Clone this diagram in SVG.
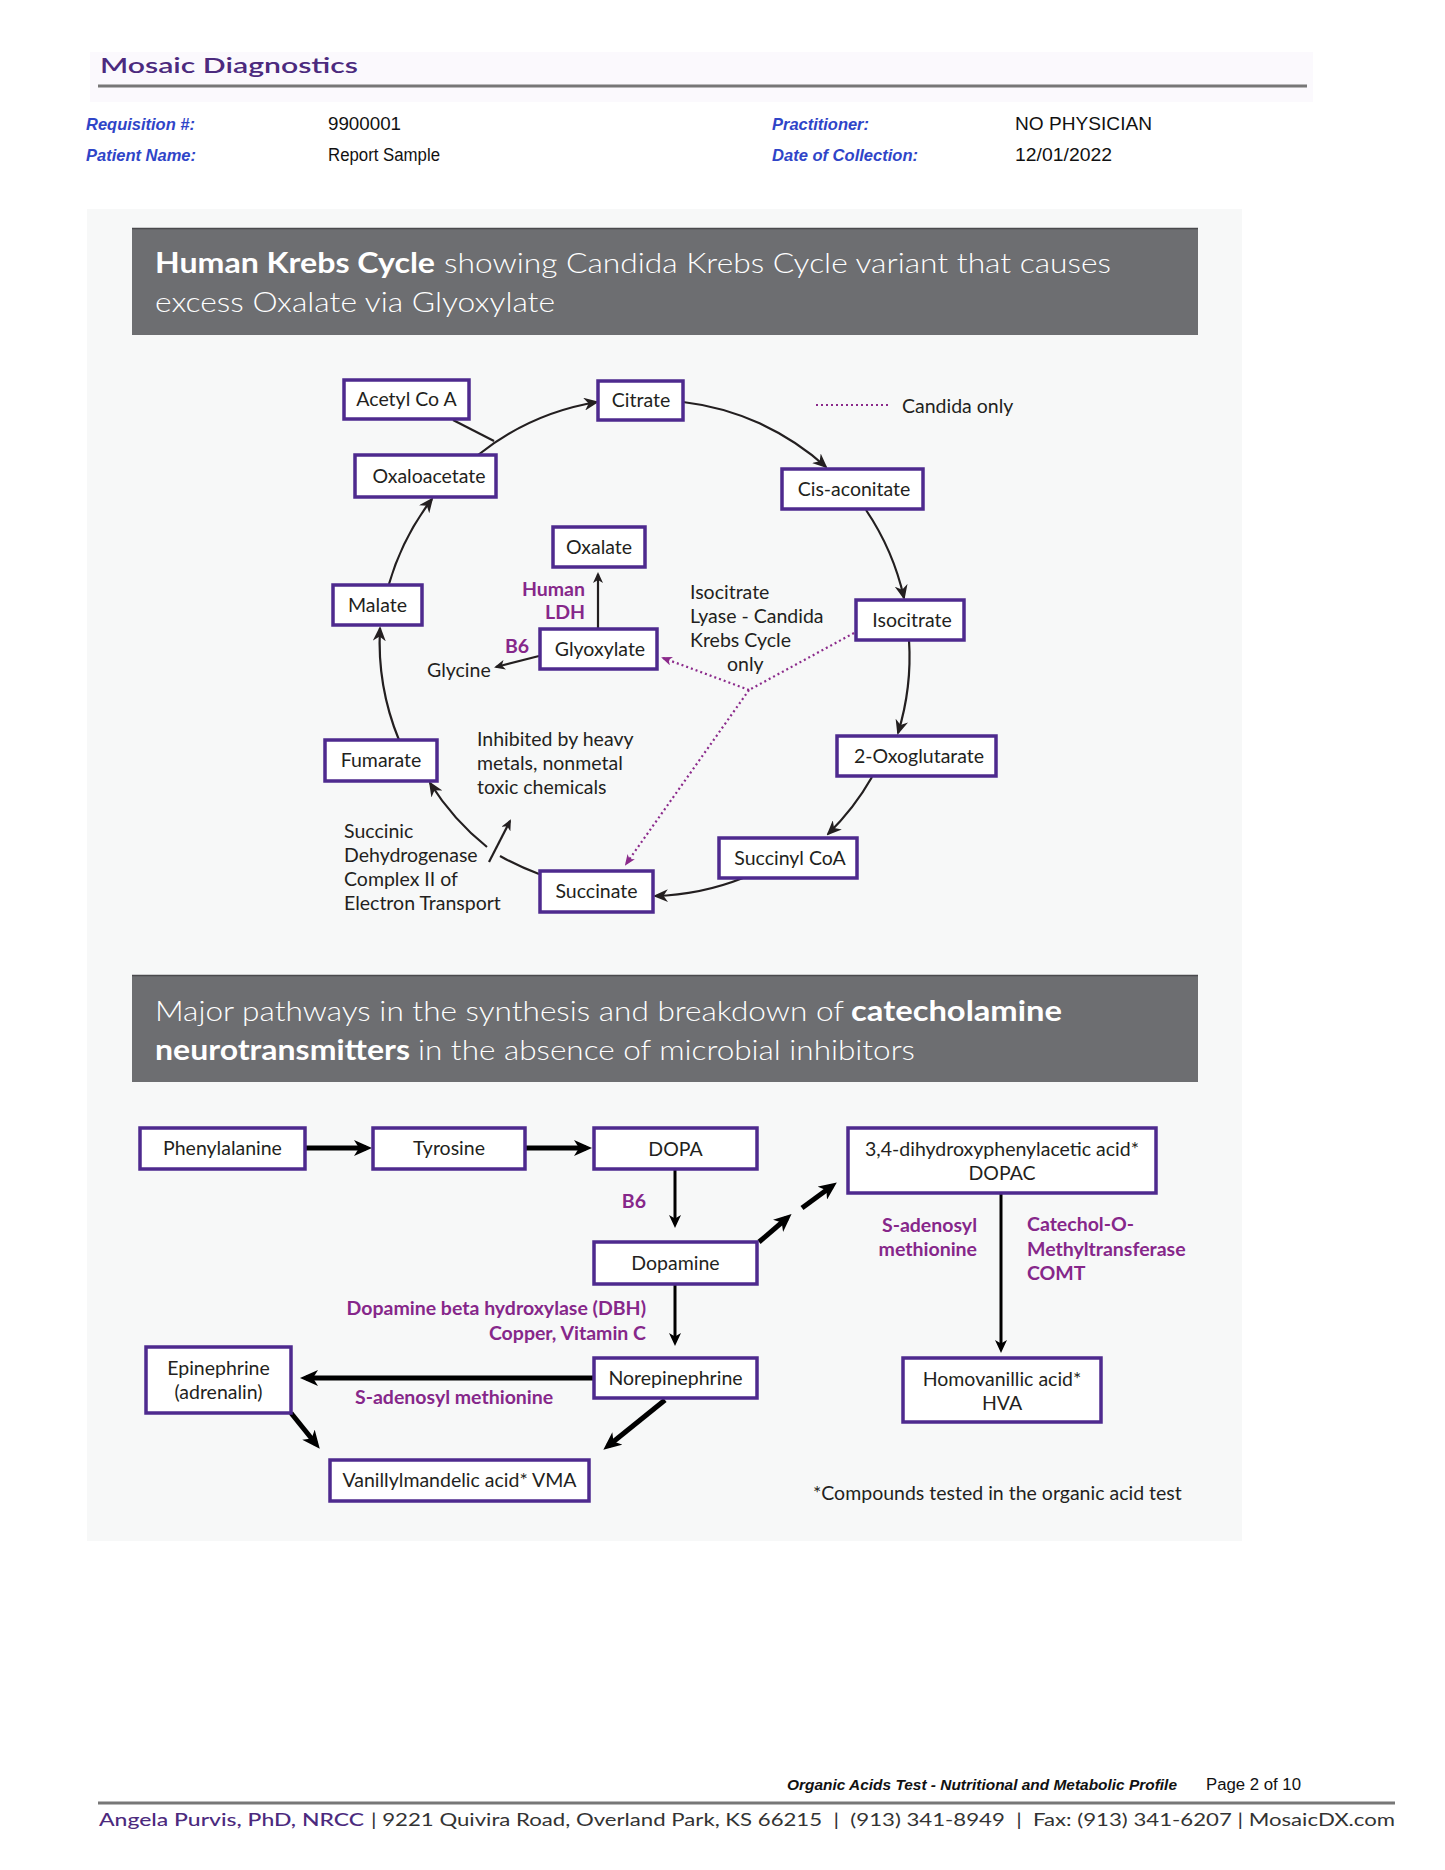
<svg xmlns="http://www.w3.org/2000/svg" width="1445" height="1870" viewBox="0 0 1445 1870">
<defs>
<style>
.hl{font-family:"Liberation Sans",Arial,sans-serif;font-size:16.5px;font-weight:bold;font-style:italic;fill:#2f45c8}
.hv{font-family:"Liberation Sans",Arial,sans-serif;font-size:18px;fill:#111}
.box{fill:#fff;stroke:#4e2a8e;stroke-width:3.5}
.nt{font-family:Lato,"Open Sans",sans-serif;font-size:19.5px;fill:#231f20;text-anchor:middle}
.lt{font-family:Lato,"Open Sans",sans-serif;font-size:19.5px;fill:#231f20}
.pt{font-family:Lato,"Open Sans",sans-serif;font-size:19.5px;font-weight:bold;fill:#86278a}
.ban{fill:#6d6e71}
.bt{font-family:Lato,"Open Sans",sans-serif;font-size:28px;fill:#fff;font-weight:300}
.bb{font-family:Lato,"Open Sans",sans-serif;font-size:28px;fill:#fff;font-weight:bold}
.kc{fill:none;stroke:#231f20;stroke-width:2.2}
.dot{fill:none;stroke:#8b2a8b;stroke-width:2.2;stroke-dasharray:2 3}
.thick{fill:none;stroke:#000;stroke-width:5}
.thin{fill:none;stroke:#000;stroke-width:3}
</style>
<marker id="kb" markerUnits="userSpaceOnUse" markerWidth="15" markerHeight="13" refX="13" refY="6.5" orient="auto"><path d="M0,0 L15,6.5 L0,13 L4.5,6.5 z" fill="#231f20"/></marker>
<marker id="ks" markerUnits="userSpaceOnUse" markerWidth="11" markerHeight="10" refX="9" refY="5" orient="auto"><path d="M0,0 L11,5 L0,10 L3,5 z" fill="#231f20"/></marker>
<marker id="pm" markerUnits="userSpaceOnUse" markerWidth="11" markerHeight="9" refX="9" refY="4.5" orient="auto"><path d="M0,0 L11,4.5 L0,9 L3,4.5 z" fill="#8b2a8b"/></marker>
<marker id="ah" markerUnits="userSpaceOnUse" markerWidth="18" markerHeight="16" refX="12" refY="8" orient="auto"><path d="M0,0 L18,8 L0,16 L5,8 z" fill="#000"/></marker>
<marker id="at" markerUnits="userSpaceOnUse" markerWidth="13" markerHeight="12" refX="9" refY="6" orient="auto"><path d="M0,0 L13,6 L0,12 L3.5,6 z" fill="#000"/></marker>
</defs>
<rect width="1445" height="1870" fill="#fff"/>

<g id="header">
<rect x="90" y="52" width="1223" height="50" fill="#fbf9fd"/>
<text x="100" y="73" font-family="Lato,'Open Sans',sans-serif" font-size="21" font-weight="600" fill="#4c2a7e" textLength="258" lengthAdjust="spacingAndGlyphs">Mosaic Diagnostics</text>
<line x1="98" y1="86" x2="1307" y2="86" stroke="#777" stroke-width="3"/>
<text class="hl" x="86" y="130" textLength="109" lengthAdjust="spacingAndGlyphs">Requisition #:</text>
<text class="hv" x="328" y="130" textLength="73" lengthAdjust="spacingAndGlyphs">9900001</text>
<text class="hl" x="772" y="130" textLength="97" lengthAdjust="spacingAndGlyphs">Practitioner:</text>
<text class="hv" x="1015" y="130" textLength="137" lengthAdjust="spacingAndGlyphs">NO PHYSICIAN</text>
<text class="hl" x="86" y="161" textLength="110" lengthAdjust="spacingAndGlyphs">Patient Name:</text>
<text class="hv" x="328" y="161" textLength="112" lengthAdjust="spacingAndGlyphs">Report Sample</text>
<text class="hl" x="772" y="161" textLength="146" lengthAdjust="spacingAndGlyphs">Date of Collection:</text>
<text class="hv" x="1015" y="161" textLength="97" lengthAdjust="spacingAndGlyphs">12/01/2022</text>
</g>

<rect x="87" y="209" width="1155" height="1332" fill="#f7f8f8"/>

<g id="banner1">
<rect class="ban" x="132" y="228" width="1066" height="107"/>
<line x1="132" y1="228.5" x2="1198" y2="228.5" stroke="#4a4a4d" stroke-width="1.5"/>
<text class="bb" x="155" y="273" textLength="280" lengthAdjust="spacingAndGlyphs">Human Krebs Cycle</text>
<text class="bt" x="444" y="273" textLength="667" lengthAdjust="spacingAndGlyphs">showing Candida Krebs Cycle variant that causes</text>
<text class="bt" x="155" y="312" textLength="400" lengthAdjust="spacingAndGlyphs">excess Oxalate via Glyoxylate</text>
</g>

<g id="krebs-connectors">
<path class="kc" d="M453,420 L494,441"/>
<path class="kc" d="M478,455 A258,258 0 0 1 597,402" marker-end="url(#kb)"/>
<path class="kc" d="M683,402 A258,258 0 0 1 826,467" marker-end="url(#kb)"/>
<path class="kc" d="M866,510 A258,258 0 0 1 904,598" marker-end="url(#kb)"/>
<path class="kc" d="M909,640 A258,258 0 0 1 898,733" marker-end="url(#kb)"/>
<path class="kc" d="M872,777 A258,258 0 0 1 828,834" marker-end="url(#kb)"/>
<path class="kc" d="M743,878 A258,258 0 0 1 655,896" marker-end="url(#kb)"/>
<path class="kc" d="M539,874 A258,258 0 0 1 500,856"/>
<path class="kc" d="M487,847 A258,258 0 0 1 430,783" marker-end="url(#kb)"/>
<path class="kc" d="M399,740 A258,258 0 0 1 380,628" marker-end="url(#kb)"/>
<path class="kc" d="M389,584 A258,258 0 0 1 432,499" marker-end="url(#kb)"/>
<path class="kc" d="M489,862 L510,821" marker-end="url(#ks)"/>
<path class="kc" d="M598,628 L598,574" marker-end="url(#ks)"/>
<path class="kc" d="M539,656 L496,667" marker-end="url(#ks)"/>
<path class="dot" d="M854,633 L749,690"/>
<path class="dot" d="M749,690 L663,658" marker-end="url(#pm)"/>
<path class="dot" d="M749,690 L626,864" marker-end="url(#pm)"/>
<path class="dot" d="M816,405 L888,405"/>
</g>

<g id="krebs-labels">
<text class="lt" x="902" y="413">Candida only</text>
<text class="pt" x="585" y="596" text-anchor="end">Human</text>
<text class="pt" x="585" y="619" text-anchor="end">LDH</text>
<text class="pt" x="505" y="653">B6</text>
<text class="lt" x="427" y="677">Glycine</text>
<text class="lt" x="690" y="599">Isocitrate</text>
<text class="lt" x="690" y="623">Lyase - Candida</text>
<text class="lt" x="690" y="647">Krebs Cycle</text>
<text class="lt" x="727" y="671">only</text>
<text class="lt" x="477" y="746">Inhibited by heavy</text>
<text class="lt" x="477" y="770">metals, nonmetal</text>
<text class="lt" x="477" y="794">toxic chemicals</text>
<text class="lt" x="344" y="838">Succinic</text>
<text class="lt" x="344" y="862">Dehydrogenase</text>
<text class="lt" x="344" y="886">Complex II of</text>
<text class="lt" x="344" y="910">Electron Transport</text>
</g>

<g id="acetylcoa"><rect class="box" x="344" y="380" width="125" height="39"/><text class="nt" x="406.5" y="406">Acetyl Co A</text></g>
<g id="citrate"><rect class="box" x="598" y="381" width="85" height="39"/><text class="nt" x="641" y="407">Citrate</text></g>
<g id="cisaconitate"><rect class="box" x="782" y="469" width="141" height="40"/><text class="nt" x="854" y="495.5">Cis-aconitate</text></g>
<g id="oxaloacetate"><rect class="box" x="355" y="455" width="141" height="42"/><text class="nt" x="429" y="482.5">Oxaloacetate</text></g>
<g id="oxalate"><rect class="box" x="553" y="527" width="92" height="40"/><text class="nt" x="599" y="553.5">Oxalate</text></g>
<g id="malate"><rect class="box" x="333" y="585" width="89" height="40"/><text class="nt" x="377.5" y="611.5">Malate</text></g>
<g id="isocitrate"><rect class="box" x="856" y="600" width="108" height="40"/><text class="nt" x="912" y="626.5">Isocitrate</text></g>
<g id="glyoxylate"><rect class="box" x="540" y="629" width="117" height="40"/><text class="nt" x="600" y="655.5">Glyoxylate</text></g>
<g id="fumarate"><rect class="box" x="325" y="740" width="112" height="41"/><text class="nt" x="381" y="767">Fumarate</text></g>
<g id="oxoglutarate"><rect class="box" x="837" y="736" width="159" height="40"/><text class="nt" x="919" y="762.5">2-Oxoglutarate</text></g>
<g id="succinylcoa"><rect class="box" x="719" y="838" width="138" height="40"/><text class="nt" x="790" y="864.5">Succinyl CoA</text></g>
<g id="succinate"><rect class="box" x="540" y="871" width="113" height="41"/><text class="nt" x="596.5" y="898">Succinate</text></g>

<g id="banner2">
<rect class="ban" x="132" y="975" width="1066" height="107"/>
<line x1="132" y1="975.5" x2="1198" y2="975.5" stroke="#4a4a4d" stroke-width="1.5"/>
<text class="bt" x="155" y="1021" textLength="689" lengthAdjust="spacingAndGlyphs">Major pathways in the synthesis and breakdown of</text>
<text class="bb" x="851" y="1021" textLength="211" lengthAdjust="spacingAndGlyphs">catecholamine</text>
<text class="bb" x="155" y="1060" textLength="255" lengthAdjust="spacingAndGlyphs">neurotransmitters</text>
<text class="bt" x="418" y="1060" textLength="497" lengthAdjust="spacingAndGlyphs">in the absence of microbial inhibitors</text>
</g>

<g id="cat-connectors">
<path class="thick" d="M305,1148 L366,1148" marker-end="url(#ah)"/>
<path class="thick" d="M525,1148 L586,1148" marker-end="url(#ah)"/>
<path class="thick" d="M594,1378 L306,1378" marker-end="url(#ah)"/>
<path class="thick" d="M665,1400 L608,1446" marker-end="url(#ah)"/>
<path class="thick" d="M291,1413 L316,1444" marker-end="url(#ah)"/>
<path class="thick" d="M759,1242 L787,1218" marker-end="url(#ah)"/>
<path class="thick" d="M802,1208 L832,1186" marker-end="url(#ah)"/>
<path class="thin" d="M675,1169 L675,1224" marker-end="url(#at)"/>
<path class="thin" d="M675,1284 L675,1342" marker-end="url(#at)"/>
<path class="thin" d="M1001,1193 L1001,1349" marker-end="url(#at)"/>
</g>

<g id="cat-labels">
<text class="pt" x="646" y="1208" text-anchor="end">B6</text>
<text class="pt" x="646" y="1315" text-anchor="end">Dopamine beta hydroxylase (DBH)</text>
<text class="pt" x="646" y="1340" text-anchor="end">Copper, Vitamin C</text>
<text class="pt" x="355" y="1404">S-adenosyl methionine</text>
<text class="pt" x="977" y="1232" text-anchor="end">S-adenosyl</text>
<text class="pt" x="977" y="1256" text-anchor="end">methionine</text>
<text class="pt" x="1027" y="1231">Catechol-O-</text>
<text class="pt" x="1027" y="1256">Methyltransferase</text>
<text class="pt" x="1027" y="1280">COMT</text>
<text class="lt" x="813" y="1500">*Compounds tested in the organic acid test</text>
</g>

<g id="phenylalanine"><rect class="box" x="140" y="1128" width="165" height="41"/><text class="nt" x="222.5" y="1155">Phenylalanine</text></g>
<g id="tyrosine"><rect class="box" x="373" y="1128" width="152" height="41"/><text class="nt" x="449" y="1155">Tyrosine</text></g>
<g id="dopa"><rect class="box" x="594" y="1128" width="163" height="41"/><text class="nt" x="675.5" y="1156">DOPA</text></g>
<g id="dopac"><rect class="box" x="848" y="1128" width="308" height="65"/><text class="nt" x="1002" y="1156">3,4-dihydroxyphenylacetic acid*</text><text class="nt" x="1002" y="1180">DOPAC</text></g>
<g id="dopamine"><rect class="box" x="594" y="1242" width="163" height="42"/><text class="nt" x="675.5" y="1270">Dopamine</text></g>
<g id="epinephrine"><rect class="box" x="146" y="1347" width="145" height="66"/><text class="nt" x="218.5" y="1375">Epinephrine</text><text class="nt" x="218.5" y="1399">(adrenalin)</text></g>
<g id="norepinephrine"><rect class="box" x="594" y="1358" width="163" height="40"/><text class="nt" x="675.5" y="1384.5">Norepinephrine</text></g>
<g id="hva"><rect class="box" x="903" y="1358" width="198" height="64"/><text class="nt" x="1002" y="1386">Homovanillic acid*</text><text class="nt" x="1002" y="1410">HVA</text></g>
<g id="vma"><rect class="box" x="330" y="1460" width="259" height="41"/><text class="nt" x="459.5" y="1487">Vanillylmandelic acid* VMA</text></g>

<g id="footer">
<text x="787" y="1790" font-family="'Liberation Sans',Arial,sans-serif" font-size="14" font-weight="bold" font-style="italic" fill="#111" textLength="390" lengthAdjust="spacingAndGlyphs">Organic Acids Test - Nutritional and Metabolic Profile</text>
<text x="1206" y="1790" font-family="'Liberation Sans',Arial,sans-serif" font-size="16" fill="#111" textLength="95" lengthAdjust="spacingAndGlyphs">Page 2 of 10</text>
<line x1="98" y1="1803" x2="1395" y2="1803" stroke="#777" stroke-width="3"/>
<text x="99" y="1826" font-family="Lato,'Open Sans',sans-serif" font-size="17" font-weight="500" fill="#4c2a7e" textLength="265" lengthAdjust="spacingAndGlyphs">Angela Purvis, PhD, NRCC</text>
<text x="371" y="1826" font-family="Lato,'Open Sans',sans-serif" font-size="17" fill="#333" textLength="1024" lengthAdjust="spacingAndGlyphs" xml:space="preserve">| 9221 Quivira Road, Overland Park, KS 66215  |  (913) 341-8949  |  Fax: (913) 341-6207 | MosaicDX.com</text>
</g>
</svg>
